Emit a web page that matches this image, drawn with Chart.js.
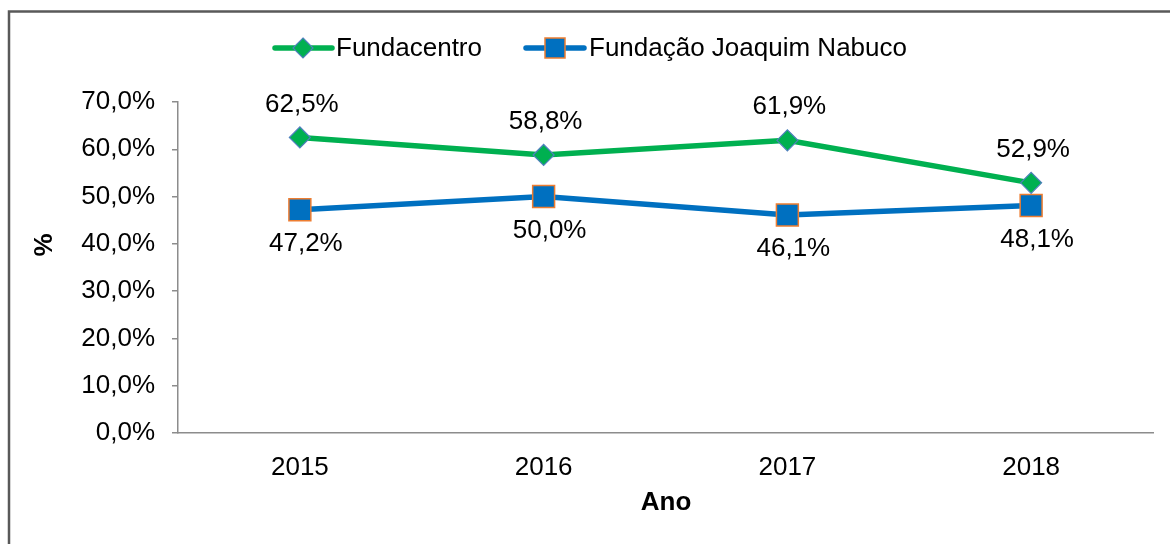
<!DOCTYPE html>
<html>
<head>
<meta charset="utf-8">
<style>
  html, body { margin: 0; padding: 0; background: #fff; }
  #wrap { position: relative; width: 1170px; height: 544px; }
</style>
<script src="https://cdn.jsdelivr.net/npm/chart.js@4/dist/chart.umd.min.js"></script>
</head>
<body>
<div id="wrap"><canvas id="c" width="1170" height="544"></canvas></div>
<script>
const categories = ['2015', '2016', '2017', '2018'];
const fundacentro = [62.5, 58.8, 61.9, 52.9];
const nabuco = [47.2, 50.0, 46.1, 48.1];
const seriesNames = ['Fundacentro', 'Fundação Joaquim Nabuco'];
const yTicks = [0, 10, 20, 30, 40, 50, 60, 70];
const xTitle = 'Ano';
const yTitle = '%';

const FONT = '"Liberation Sans", Arial, sans-serif';
const GREEN = '#00B050';
const BLUE = '#0070C0';

function fmt(v) { return v.toFixed(1).replace('.', ',') + '%'; }

function diamond(ctx, x, y, r, fill, stroke) {
  ctx.beginPath();
  ctx.moveTo(x, y - r); ctx.lineTo(x + r, y); ctx.lineTo(x, y + r); ctx.lineTo(x - r, y);
  ctx.closePath();
  ctx.fillStyle = fill; ctx.fill();
  ctx.lineWidth = 1.2; ctx.strokeStyle = stroke; ctx.stroke();
}
function square(ctx, x, y, s, fill, stroke) {
  ctx.fillStyle = fill; ctx.fillRect(x - s / 2, y - s / 2, s, s);
  ctx.lineWidth = 1.5; ctx.strokeStyle = stroke; ctx.strokeRect(x - s / 2, y - s / 2, s, s);
}

const decor = {
  id: 'decor',
  beforeDraw(chart) {
    const ctx = chart.ctx;
    ctx.save();
    ctx.strokeStyle = '#595959';
    ctx.lineWidth = 2.5;
    ctx.beginPath();
    ctx.moveTo(9, 546); ctx.lineTo(9, 11.5); ctx.lineTo(1175, 11.5);
    ctx.stroke();
    ctx.restore();
  },
  afterDraw(chart) {
    const ctx = chart.ctx;
    ctx.save();
    // legend
    ctx.font = '26px ' + FONT;
    ctx.textBaseline = 'middle';
    ctx.textAlign = 'left';
    const ly = 48;
    ctx.lineCap = 'round';
    ctx.lineWidth = 5.5;
    ctx.strokeStyle = GREEN;
    ctx.beginPath(); ctx.moveTo(275, ly); ctx.lineTo(332, ly); ctx.stroke();
    diamond(ctx, 303, ly, 10, GREEN, '#4F81BD');
    ctx.fillStyle = '#000';
    ctx.fillText(seriesNames[0], 336, ly + 1);
    ctx.lineWidth = 5.5;
    ctx.strokeStyle = BLUE;
    ctx.beginPath(); ctx.moveTo(526, ly); ctx.lineTo(584, ly); ctx.stroke();
    square(ctx, 555, ly, 20, BLUE, '#ED7D31');
    ctx.fillStyle = '#000';
    ctx.fillText(seriesNames[1], 589, ly + 1);

    // data labels
    ctx.textAlign = 'center';
    ctx.font = '26px ' + FONT;
    const m0 = chart.getDatasetMeta(0), m1 = chart.getDatasetMeta(1);
    m0.data.forEach((p, i) => { ctx.fillText(fmt(fundacentro[i]), p.x + 2, p.y - 33); });
    m1.data.forEach((p, i) => { ctx.fillText(fmt(nabuco[i]), p.x + 6, p.y + 34); });

    // axis titles
    ctx.font = 'bold 26px ' + FONT;
    ctx.fillText(xTitle, 666, 503);
    ctx.translate(45, 245);
    ctx.rotate(-Math.PI / 2);
    ctx.fillText(yTitle, 0, 0);
    ctx.restore();
  }
};

new Chart(document.getElementById('c'), {
  type: 'line',
  data: {
    labels: categories,
    datasets: [
      {
        label: seriesNames[0], data: fundacentro,
        borderColor: GREEN, backgroundColor: GREEN, borderWidth: 5.5,
        pointStyle: 'rectRot', pointRadius: 10.5, pointBorderColor: '#4F81BD',
        pointBackgroundColor: GREEN, pointBorderWidth: 1.2, tension: 0
      },
      {
        label: seriesNames[1], data: nabuco,
        borderColor: BLUE, backgroundColor: BLUE, borderWidth: 5.5,
        pointStyle: 'rect', pointRadius: 15.5, pointBorderColor: '#ED7D31',
        pointBackgroundColor: BLUE, pointBorderWidth: 1.5, tension: 0
      }
    ]
  },
  options: {
    responsive: false,
    animation: false,
    devicePixelRatio: 1,
    layout: { padding: { top: 102, right: 16, left: 0, bottom: 0 } },
    plugins: { legend: { display: false }, tooltip: { enabled: false } },
    scales: {
      x: {
        offset: true,
        grid: { display: false, drawTicks: false },
        border: { display: true, color: '#8C8C8C', width: 1.5 },
        ticks: { color: '#000', font: { family: FONT, size: 26 }, padding: 19 },
        afterFit(s) { s.height = 111; }
      },
      y: {
        min: 0, max: 70,
        afterBuildTicks(s) { s.ticks = yTicks.map(v => ({ value: v })); },
        grid: { drawOnChartArea: false, drawTicks: true, tickLength: 6, color: '#8C8C8C', lineWidth: 1.5 },
        border: { display: true, color: '#8C8C8C', width: 1.5 },
        ticks: { color: '#000', font: { family: FONT, size: 26 }, padding: 17, callback: v => fmt(v) },
        afterFit(s) { s.width = 178; }
      }
    }
  },
  plugins: [decor]
});
</script>
</body>
</html>
